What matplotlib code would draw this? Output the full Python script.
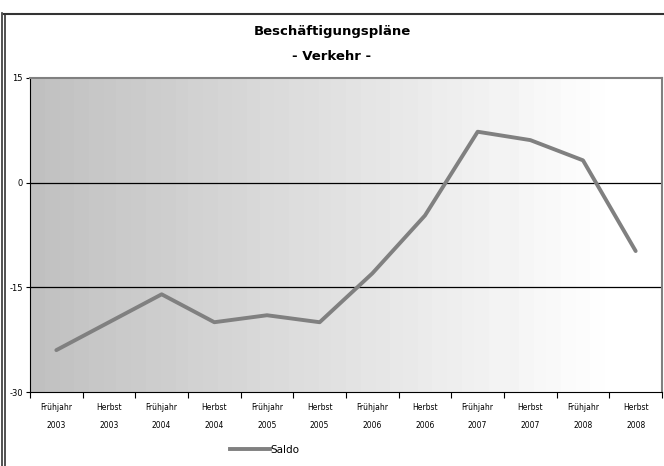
import numpy as np
import matplotlib
matplotlib.use("Agg")
import matplotlib.pyplot as plt
from matplotlib.lines import Line2D

# data
seasons = ["Frühjahr", "Herbst"] * 6
years = ["2003", "2003", "2004", "2004", "2005", "2005",
         "2006", "2006", "2007", "2007", "2008", "2008"]
saldo = [-24, -20, -16, -20, -19, -20, -13, -4.7, 7.3, 6.1, 3.2, -9.8]
yticks = [-30, -15, 0, 15]

plt.rcParams['font.family'] = ['DejaVu Sans']

fig = plt.figure(figsize=(6.64, 4.66), dpi=100)
W, H = 664, 466
ax = fig.add_axes([30 / W, 1 - 392 / H, 632 / W, 314 / H])

n = len(saldo)
x = np.arange(n)
ax.set_xlim(-0.5, n - 0.5)
ax.set_ylim(-30, 15)

# grey to white gradient background
grad = np.linspace(0, 1, 256)
grad = np.clip(grad / 0.91, 0, 1)
grad = np.floor(grad * 40) / 40
shade = 0.753 + (1 - 0.753) * grad
img = np.tile(shade, (2, 1))
ax.imshow(img, cmap='gray', vmin=0, vmax=1, aspect='auto',
          extent=[-0.5, n - 0.5, -30, 15], zorder=0, interpolation='nearest')

for yv in [0, -15]:
    ax.axhline(yv, color='black', lw=0.9, zorder=1)

ax.plot(x, saldo, color='#808080', lw=2.8, solid_capstyle='round', zorder=3)

ax.set_yticks(yticks)
ax.set_yticklabels([str(v) for v in yticks], fontsize=6)
ax.set_xticks(x)
ax.set_xticklabels([f"{s}\n{y}" for s, y in zip(seasons, years)],
                   fontsize=5.5, linespacing=2.2)
ax.set_xticks(np.arange(-0.5, n, 1), minor=True)
ax.tick_params(axis='x', which='major', length=0, pad=8)
ax.tick_params(axis='x', which='minor', length=4, width=0.8, direction='out')
ax.tick_params(axis='y', length=3, width=0.8, pad=2)

ax.spines['left'].set_color('black')
ax.spines['bottom'].set_color('black')
ax.spines['top'].set_color('#808080')
ax.spines['right'].set_color('#808080')
ax.spines['top'].set_linewidth(1.5)
ax.spines['right'].set_linewidth(1.5)

fig.text(332 / W, 1 - 32 / H, "Beschäftigungspläne", ha='center', va='center',
         fontsize=9.5, fontweight='semibold')
fig.text(332 / W, 1 - 57 / H, "- Verkehr -", ha='center', va='center',
         fontsize=9.5, fontweight='semibold')

handle = Line2D([], [], color='#808080', lw=2.8)
fig.legend([handle], ["Saldo"], loc='center', bbox_to_anchor=(265 / W, 1 - 450 / H),
           frameon=False, fontsize=7.5, handlelength=3.8, handletextpad=0.1)

# outer frame
fig.add_artist(Line2D([1.5 / W, 1.5 / W], [0, 1 - 13 / H], color='#333333', lw=1.2))
fig.add_artist(Line2D([5 / W, 5 / W], [0, 1 - 14 / H], color='#333333', lw=1.2))
fig.add_artist(Line2D([4 / W, 1], [1 - 13.5 / H, 1 - 13.5 / H], color='#333333', lw=1.5))

fig.savefig("out.png", dpi=100)
